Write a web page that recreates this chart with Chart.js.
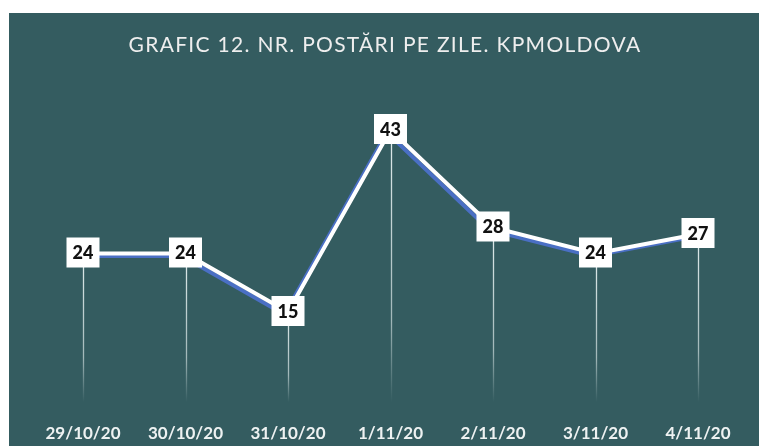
<!DOCTYPE html>
<html>
<head>
<meta charset="utf-8">
<script src="https://cdn.jsdelivr.net/npm/chart.js@4.4.0/dist/chart.umd.min.js"></script>
<style>
  html, body { margin: 0; padding: 0; background: #fff; }
  #wrap { width: 759px; height: 446px; }
</style>
</head>
<body>
<div id="wrap"><canvas id="postsChart" width="759" height="446"></canvas></div>
<script>
const chartTitle = "GRAFIC 12. NR. POSTĂRI PE ZILE. KPMOLDOVA";
const days = ["29/10/20", "30/10/20", "31/10/20", "1/11/20", "2/11/20", "3/11/20", "4/11/20"];
const posts = [24, 24, 15, 43, 28, 24, 27];

const panelColor = "#345c60";

// teal panel + title behind everything
const panelPlugin = {
  id: "panel",
  beforeDraw(chart) {
    const ctx = chart.ctx;
    ctx.save();
    ctx.fillStyle = "#ffffff";
    ctx.fillRect(0, 0, chart.width, chart.height);
    ctx.fillStyle = panelColor;
    ctx.fillRect(9, 13, chart.width - 9, chart.height - 13);
    ctx.fillStyle = "#eeeeee";
    ctx.font = "400 21px Lato";
    ctx.letterSpacing = "1.3px";
    ctx.textAlign = "center";
    ctx.textBaseline = "middle";
    ctx.fillText(chartTitle, 385, 45);
    ctx.restore();
  }
};

// faded drop lines from each point to the bottom
const dropLines = {
  id: "dropLines",
  beforeDatasetsDraw(chart) {
    const ctx = chart.ctx;
    const meta = chart.getDatasetMeta(0);
    ctx.save();
    meta.data.forEach((pt) => {
      const grad = ctx.createLinearGradient(0, pt.y, 0, 402);
      grad.addColorStop(0, "rgba(235,245,245,0.95)");
      grad.addColorStop(0.7, "rgba(235,245,245,0.6)");
      grad.addColorStop(1, "rgba(235,245,245,0)");
      ctx.strokeStyle = grad;
      ctx.lineWidth = 1.3;
      ctx.beginPath();
      ctx.moveTo(Math.round(pt.x) + 0.5, pt.y);
      ctx.lineTo(Math.round(pt.x) + 0.5, 402);
      ctx.stroke();
    });
    ctx.restore();
  }
};

// blue shadow under the white line
const lineShadow = {
  id: "lineShadow",
  beforeDatasetDraw(chart) {
    const ctx = chart.ctx;
    ctx.save();
    ctx.shadowColor = "#4a6fc4";
    ctx.shadowOffsetX = -3.5;
    ctx.shadowOffsetY = 2.5;
    ctx.shadowBlur = 0;
  },
  afterDatasetDraw(chart) {
    chart.ctx.restore();
  }
};

// white boxes with values
const valueBoxes = {
  id: "valueBoxes",
  afterDatasetsDraw(chart) {
    const ctx = chart.ctx;
    const meta = chart.getDatasetMeta(0);
    ctx.save();
    ctx.font = "900 18px Lato";
    ctx.textAlign = "center";
    ctx.textBaseline = "middle";
    meta.data.forEach((pt, i) => {
      const w = 33, h = 30;
      ctx.fillStyle = "#ffffff";
      ctx.fillRect(pt.x - w / 2, pt.y - h / 2 - 1, w, h);
      ctx.fillStyle = "#111111";
      ctx.fillText(String(posts[i]), pt.x, pt.y);
    });
    ctx.restore();
  }
};

new Chart(document.getElementById("postsChart").getContext("2d"), {
  type: "line",
  data: {
    labels: days,
    datasets: [{
      data: posts,
      borderColor: "#ffffff",
      borderWidth: 4,
      pointRadius: 0,
      tension: 0,
      fill: false,
    }],
  },
  options: {
    responsive: false,
    animation: false,
    layout: { padding: { top: 84.5, left: 31.75, right: 9.75, bottom: 0 } },
    plugins: {
      legend: { display: false },
      tooltip: { enabled: false },
    },
    scales: {
      x: {
        offset: true,
        grid: { display: false },
        border: { display: false },
        afterFit: (s) => { s.height = 36.5; },
        ticks: {
          padding: 6,
          color: "#eef2f2",
          font: { family: "Lato", weight: "bold", size: 17 },
          maxRotation: 0,
          autoSkip: false,
        },
      },
      y: {
        display: false,
        min: 0,
        max: 50,
      },
    },
  },
  plugins: [panelPlugin, dropLines, lineShadow, valueBoxes],
});
</script>
</body>
</html>
